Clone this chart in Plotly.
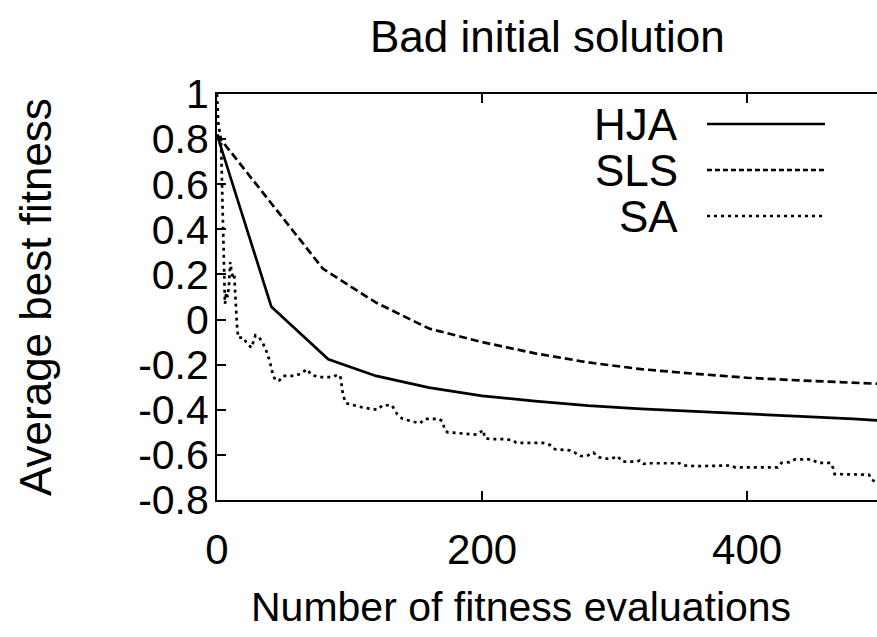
import plotly.graph_objects as go

# Average best fitness vs. number of fitness evaluations, three optimisers
hja_x = [0, 41, 84, 120, 160, 200, 240, 280, 320, 360, 400, 440, 480, 500]
hja_y = [0.82, 0.057, -0.176, -0.25, -0.302, -0.338, -0.362, -0.382, -0.396, -0.408, -0.418, -0.429, -0.44, -0.448]

sls_x = [0, 80, 120, 160, 200, 240, 280, 320, 360, 400, 440, 480, 500]
sls_y = [0.82, 0.225, 0.075, -0.04, -0.10, -0.15, -0.19, -0.22, -0.24, -0.258, -0.27, -0.28, -0.285]

sa_x = [0, 1, 2, 3, 4, 5, 6, 7, 8, 9, 10, 11, 12, 13, 14, 15, 16, 20, 22, 26, 29, 32, 35, 38,
        40, 42, 44, 47, 50, 59, 63, 68, 71, 77, 87, 91, 93, 95, 97, 100, 110, 121, 125, 132,
        136, 140, 147, 153, 157, 167, 170, 172, 174, 185, 196, 201, 202, 206, 217, 223, 226,
        246, 251, 255, 262, 266, 270, 274, 279, 284, 288, 293, 298, 302, 306, 317, 319, 322,
        327, 349, 352, 363, 387, 391, 423, 426, 432, 436, 449, 453, 463, 465, 466, 470, 487,
        492, 494, 500]
sa_y = [1.0, 0.87, 0.83, 0.80, 0.55, 0.30, 0.07, 0.12, 0.10, 0.15, 0.255, 0.21, 0.19, 0.20,
        0.06, -0.02, -0.08, -0.08, -0.10, -0.125, -0.07, -0.08, -0.11, -0.15,
        -0.19, -0.24, -0.27, -0.27, -0.25, -0.25, -0.24, -0.22, -0.245, -0.255, -0.255, -0.245,
        -0.25, -0.33, -0.37, -0.375, -0.39, -0.40, -0.38, -0.38,
        -0.42, -0.44, -0.45, -0.46, -0.44, -0.44, -0.45, -0.49, -0.50, -0.505, -0.51, -0.49,
        -0.525, -0.53, -0.53, -0.535, -0.547,
        -0.547, -0.555, -0.575, -0.58, -0.58, -0.59, -0.605, -0.605, -0.59, -0.61, -0.617,
        -0.617, -0.605, -0.63, -0.63, -0.625, -0.64,
        -0.637, -0.637, -0.647, -0.65, -0.647, -0.655, -0.655, -0.635, -0.632, -0.62, -0.62,
        -0.635, -0.635, -0.66, -0.685, -0.685, -0.685,
        -0.688, -0.71, -0.73]

y_ticks = [-0.8, -0.6, -0.4, -0.2, 0, 0.2, 0.4, 0.6, 0.8, 1]
y_tick_text = ["-0.8", "-0.6", "-0.4", "-0.2", "0", "0.2", "0.4", "0.6", "0.8", "1"]
x_ticks = [0, 200, 400]

series_names = ["HJA", "SLS", "SA"]
FONT = "Liberation Sans, Arial, Helvetica, sans-serif"
DASH = {"HJA": "solid", "SLS": "8px,4px", "SA": "3px,4px"}
KEY_DASH = {"HJA": "solid", "SLS": "5px,3px", "SA": "3px,4px"}
LW = 2.7

fig = go.Figure()
for name, xs, ys in zip(series_names, [hja_x, sls_x, sa_x], [hja_y, sls_y, sa_y]):
    fig.add_trace(go.Scatter(x=xs, y=ys, mode="lines", name=name,
                             line=dict(color="black", width=LW, dash=DASH[name]),
                             showlegend=False))

W, H = 877, 637
L, R, T, B = 217, 0, 94, 137
pw, ph = W - L - R, H - T - B


def px(xp):
    return (xp - L) / pw


def py(yp):
    return (H - B - yp) / ph


fig.update_layout(
    width=W, height=H,
    margin=dict(l=L, r=R, t=T, b=B),
    paper_bgcolor="white", plot_bgcolor="white",
    font=dict(family=FONT, color="black", size=42),
    xaxis=dict(range=[0, 498], tickvals=x_ticks, ticks="inside", ticklen=9,
               tickwidth=1.5, tickcolor="black", showline=True, linecolor="black",
               linewidth=2, mirror="ticks", showgrid=False, zeroline=False,
               tickfont=dict(size=42), ticklabelstandoff=12),
    yaxis=dict(range=[-0.8, 1], tickvals=y_ticks, ticktext=y_tick_text, ticks="inside",
               ticklen=9, tickwidth=1.5, tickcolor="black", showline=True,
               linecolor="black", linewidth=2, showgrid=False, zeroline=False,
               tickfont=dict(size=41), ticklabelstandoff=-2),
    yaxis2=dict(range=[-0.8, 1], overlaying="y", side="right", tickvals=y_ticks,
                ticks="inside", ticklen=9, tickwidth=1.5, tickcolor="black",
                showline=False, showgrid=False, zeroline=False, showticklabels=False),
)

annotations = [
    dict(text="Bad initial solution", x=0.5, y=py(36), xref="paper", yref="paper",
         showarrow=False, xanchor="center", yanchor="middle", font=dict(size=44)),
    dict(text="Number of fitness evaluations", x=px(521), y=py(607), xref="paper",
         yref="paper", showarrow=False, xanchor="center", yanchor="middle",
         font=dict(size=41)),
    dict(text="Average best fitness", x=px(35), y=py(297), xref="paper", yref="paper",
         showarrow=False, xanchor="center", yanchor="middle", textangle=-90,
         font=dict(size=44)),
]

# key: right-justified labels with line samples to their right
key_rows = [124, 170, 216]
shapes = []
for name, yk in zip(series_names, key_rows):
    annotations.append(dict(text=name, x=px(680), y=py(yk), xref="paper", yref="paper",
                            showarrow=False, xanchor="right", yanchor="middle",
                            font=dict(size=44)))
    shapes.append(dict(type="line", xref="paper", yref="paper", x0=px(707), x1=px(825),
                       y0=py(yk), y1=py(yk),
                       line=dict(color="black", width=LW, dash=KEY_DASH[name])))

fig.update_layout(annotations=annotations, shapes=shapes)
fig.write_html("out.html")
